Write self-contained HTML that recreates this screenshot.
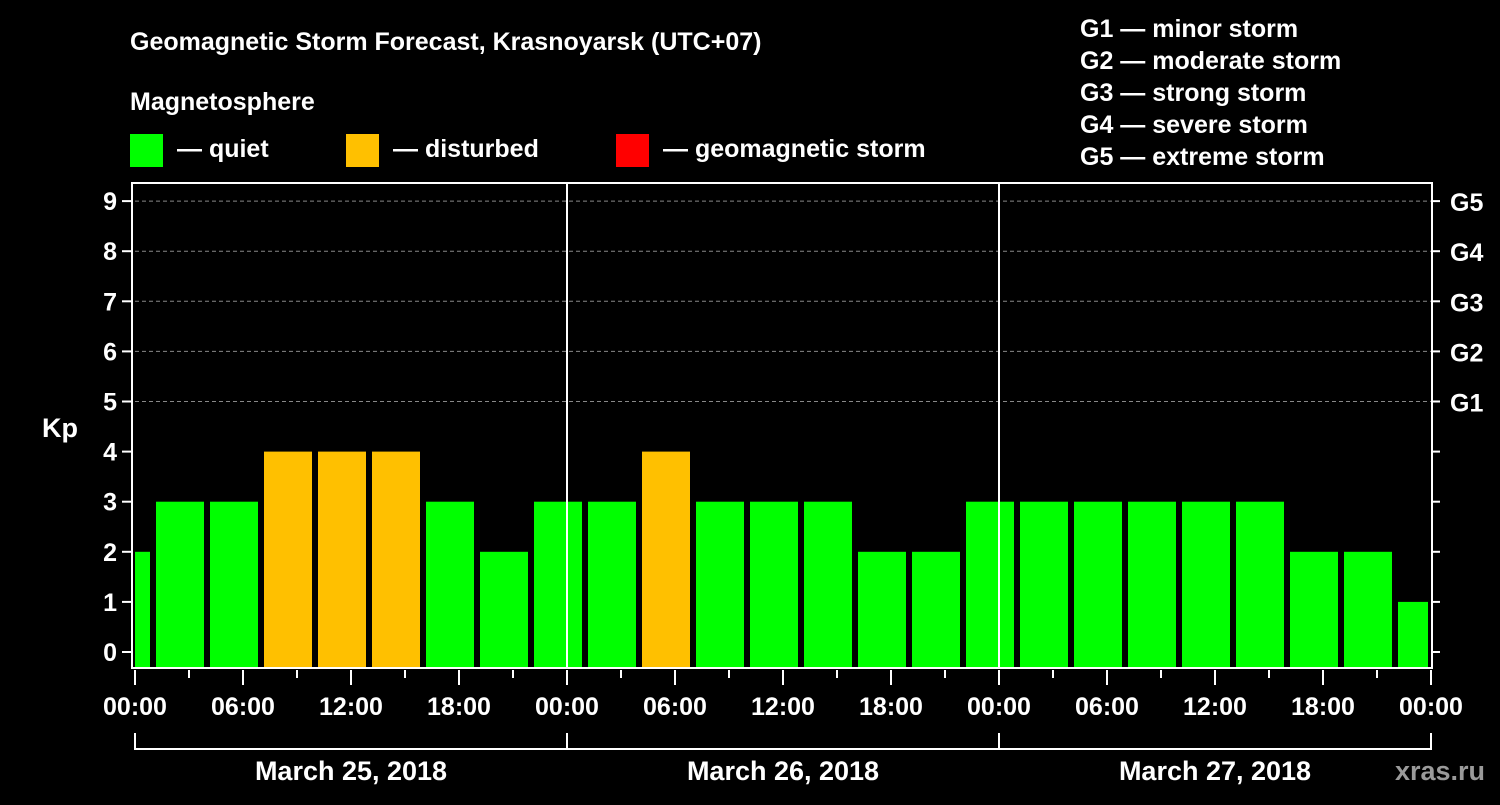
<!DOCTYPE html>
<html><head><meta charset="utf-8"><style>
body{margin:0;background:#000;width:1500px;height:800px;overflow:hidden}
svg text{font-family:"Liberation Sans",Arial,sans-serif;font-weight:bold;fill:#fff}
</style></head><body>
<svg id="c" width="1500" height="800" xmlns="http://www.w3.org/2000/svg">
<text x="130" y="50" font-size="25">Geomagnetic Storm Forecast, Krasnoyarsk (UTC+07)</text>
<text x="130" y="110" font-size="25">Magnetosphere</text>
<rect x="130" y="134" width="33" height="33" fill="#00ff00"/>
<text x="177" y="157" font-size="25">— quiet</text>
<rect x="346" y="134" width="33" height="33" fill="#ffc000"/>
<text x="393" y="157" font-size="25">— disturbed</text>
<rect x="616" y="134" width="33" height="33" fill="#ff0000"/>
<text x="663" y="157" font-size="25">— geomagnetic storm</text>
<g font-size="25">
<text x="1080" y="37">G1 — minor storm</text>
<text x="1080" y="69">G2 — moderate storm</text>
<text x="1080" y="101">G3 — strong storm</text>
<text x="1080" y="133">G4 — severe storm</text>
<text x="1080" y="165">G5 — extreme storm</text>
</g>
<text x="42" y="437" font-size="27">Kp</text>
<text x="1485" y="780" font-size="27" fill="#aaa" style="fill:#9a9a9a" text-anchor="end">xras.ru</text>
<g id="plot"></g>
</svg>
<script>
const kpValues=[2,3,3,4,4,4,3,2,3,3,4,3,3,3,2,2,3,3,3,3,3,3,2,2,1];
const xTickLabels=["00:00","06:00","12:00","18:00","00:00","06:00","12:00","18:00","00:00","06:00","12:00","18:00","00:00"];
const dayLabels=["March 25, 2018","March 26, 2018","March 27, 2018"];
const gLabels=["G1","G2","G3","G4","G5"];
const NS="http://www.w3.org/2000/svg";
const X0=135,PXH=18,TOTAL=72,PT=183,PB=668;
const xs=h=>X0+PXH*h;
const ys=v=>652-50.1*v;
const g=document.getElementById('plot');
function mk(t,a){const e=document.createElementNS(NS,t);for(const k in a)e.setAttribute(k,a[k]);g.appendChild(e);return e;}
// gridlines
for(let v=5;v<=9;v++){const l=mk('line',{x1:xs(0),x2:xs(TOTAL),y1:ys(v),y2:ys(v),stroke:'#888','stroke-dasharray':'4,3','stroke-width':1});

}
// bars
kpValues.forEach((v,k)=>{
 let h0=-2+3*k,h1=h0+3;
 let x0=Math.max(xs(h0)+3,xs(0)),x1=Math.min(xs(h1)-3,xs(TOTAL)-3);
 const col=v>=5?'#ff0000':(v>=4?'#ffc000':'#00ff00');
 const r=mk('rect',{x:x0,y:ys(v),width:x1-x0,height:PB-ys(v),fill:col});
 
 
});
// day dividers
for(let d=1;d<3;d++){const l=mk('line',{x1:xs(24*d),x2:xs(24*d),y1:PT,y2:PB,stroke:'#fff','stroke-width':2});

}
// frame
const f=mk('rect',{x:132,y:PT,width:xs(TOTAL)+1-132,height:PB-PT,fill:'none',stroke:'#fff','stroke-width':2});


// y ticks & labels
for(let v=0;v<=9;v++){
 mk('line',{x1:122,x2:132,y1:ys(v),y2:ys(v),stroke:'#fff','stroke-width':2});
 mk('line',{x1:xs(TOTAL),x2:xs(TOTAL)+9,y1:ys(v),y2:ys(v),stroke:'#fff','stroke-width':2});
 const t=mk('text',{x:117,y:ys(v)+9,'font-size':25,'text-anchor':'end'});t.textContent=v;
 
 
}
gLabels.forEach((s,i)=>{const t=mk('text',{x:1450,y:ys(5+i)+10,'font-size':25});t.textContent=s;

});
// x ticks
for(let h=0;h<=TOTAL;h+=3){const major=h%6===0;
 mk('line',{x1:xs(h),x2:xs(h),y1:PB+2,y2:PB+(major?17:10),stroke:'#fff','stroke-width':2});}
xTickLabels.forEach((s,i)=>{const t=mk('text',{x:xs(i*6),y:715,'font-size':25,'text-anchor':'middle'});t.textContent=s;

});
// day brackets
dayLabels.forEach((s,i)=>{
 const a=xs(24*i),b=xs(24*(i+1));
 mk('path',{d:`M${a},733 V749 H${b} V733`,stroke:'#fff','stroke-width':2,fill:'none'});
 const t=mk('text',{x:(a+b)/2,y:780,'font-size':27,'text-anchor':'middle'});t.textContent=s;
 
 
});
</script>
</body></html>
